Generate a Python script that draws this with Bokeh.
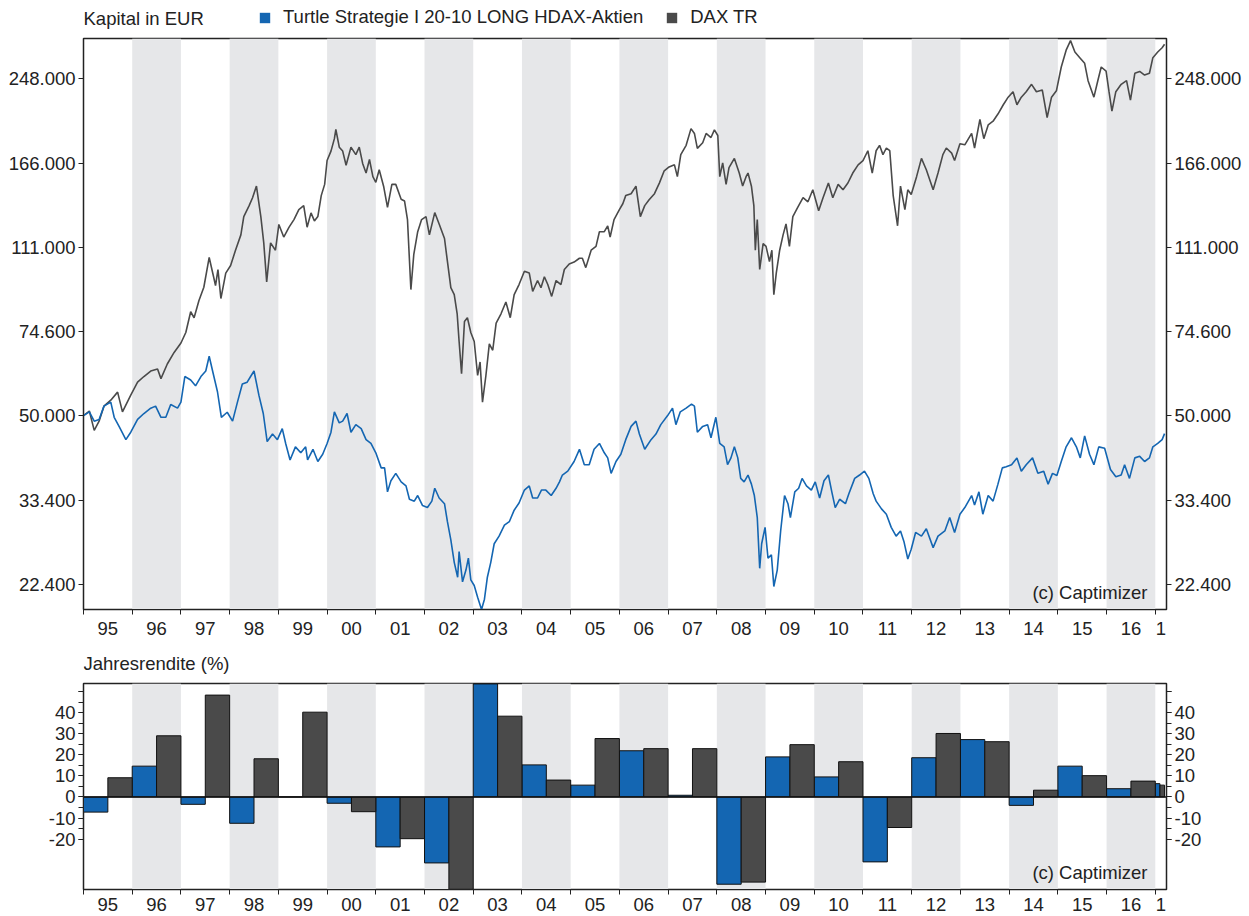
import numpy as np
from bokeh.plotting import figure
from bokeh.layouts import column
from bokeh.models import (Range1d, FixedTicker, LogAxis, LinearAxis, BoxAnnotation,
                          Label, Legend, LegendItem, Span, ColumnDataSource)
from bokeh.embed import file_html
from bokeh.resources import INLINE

# ---------------- data ----------------
years = list(range(1995, 2018))
year_labels = ["95", "96", "97", "98", "99", "00", "01", "02", "03", "04", "05", "06",
               "07", "08", "09", "10", "11", "12", "13", "14", "15", "16", "1"]
x_start, x_end = 1995.0, 2017.23

y_ticks = [22400, 33400, 50000, 74600, 111000, 166000, 248000]
ret_ticks = [-20, -10, 0, 10, 20, 30, 40, 50]
ret_minor = [-20, -15, -10, -5, 0, 5, 10, 15, 20, 25, 30, 35, 40, 45, 50]

series_names = ["Turtle Strategie I 20-10 LONG HDAX-Aktien", "DAX TR"]

# annual returns (%)
strat_ret = [-7.2, 14.6, -3.5, -12.5, 0.0, -3.0, -23.7, -31.3, 53.6, 15.2, 5.6, 21.9,
             0.8, -41.4, 19.0, 9.5, -30.8, 18.6, 27.2, -4.0, 14.6, 3.9, 6.3]
dax_ret = [9.1, 29.0, 48.3, 18.1, 40.2, -7.0, -19.8, -43.8, 38.3, 8.0, 27.7, 22.9,
           22.9, -40.4, 24.8, 16.7, -14.5, 30.1, 26.2, 3.2, 10.1, 7.5, 5.6]

# capital curve DAX TR (EUR)
dax_t = [1995.00, 1995.12, 1995.22, 1995.32, 1995.42, 1995.56, 1995.70, 1995.80, 1995.97,
         1996.11, 1996.24, 1996.38, 1996.52, 1996.59, 1996.72, 1996.86,
         1997.00, 1997.10, 1997.20, 1997.27, 1997.37, 1997.47, 1997.58, 1997.67, 1997.71, 1997.76, 1997.82, 1997.92,
         1998.02, 1998.12, 1998.23, 1998.29, 1998.40, 1998.47, 1998.55, 1998.64, 1998.70, 1998.76, 1998.84, 1998.94,
         1999.01, 1999.11, 1999.22, 1999.32, 1999.42, 1999.52, 1999.59, 1999.67, 1999.74, 1999.81, 1999.88, 1999.95,
         2000.00, 2000.08, 2000.15, 2000.18, 2000.25, 2000.32, 2000.39, 2000.49, 2000.59, 2000.66, 2000.73, 2000.80, 2000.87, 2000.94,
         2001.00, 2001.07, 2001.16, 2001.24, 2001.33, 2001.41, 2001.52, 2001.59, 2001.65, 2001.72, 2001.78, 2001.86, 2001.94,
         2002.03, 2002.10, 2002.21, 2002.30, 2002.41, 2002.47, 2002.54, 2002.61, 2002.67, 2002.71, 2002.76, 2002.82, 2002.88, 2002.95,
         2003.02, 2003.09, 2003.14, 2003.19, 2003.26, 2003.33, 2003.40, 2003.47, 2003.57, 2003.67, 2003.76, 2003.84, 2003.94,
         2004.05, 2004.15, 2004.22, 2004.32, 2004.39, 2004.46, 2004.53, 2004.61, 2004.70, 2004.80, 2004.87, 2004.97,
         2005.07, 2005.18, 2005.24, 2005.31, 2005.42, 2005.52, 2005.59, 2005.69, 2005.76, 2005.81, 2005.89,
         2006.00, 2006.07, 2006.13, 2006.24, 2006.34, 2006.43, 2006.52, 2006.61, 2006.72, 2006.82, 2006.92,
         2007.02, 2007.13, 2007.19, 2007.26, 2007.37, 2007.47, 2007.54, 2007.60, 2007.71, 2007.78, 2007.88, 2007.95,
         2008.02, 2008.06, 2008.12, 2008.19, 2008.25, 2008.36, 2008.46, 2008.53, 2008.60, 2008.64, 2008.71, 2008.76, 2008.79, 2008.83, 2008.88, 2008.95,
         2009.01, 2009.08, 2009.13, 2009.17, 2009.22, 2009.29, 2009.36, 2009.42, 2009.49, 2009.56, 2009.66, 2009.77, 2009.87, 2009.97,
         2010.09, 2010.18, 2010.29, 2010.38, 2010.49, 2010.59, 2010.69, 2010.79, 2010.90,
         2011.00, 2011.10, 2011.19, 2011.27, 2011.34, 2011.41, 2011.48, 2011.55, 2011.62, 2011.71, 2011.77, 2011.86, 2011.92, 2011.99,
         2012.10, 2012.20, 2012.30, 2012.44, 2012.54, 2012.64, 2012.71, 2012.82, 2012.88, 2012.99,
         2013.09, 2013.23, 2013.29, 2013.40, 2013.48, 2013.57, 2013.67, 2013.77, 2013.88, 2013.98,
         2014.08, 2014.16, 2014.25, 2014.35, 2014.46, 2014.56, 2014.68, 2014.78, 2014.87, 2014.97,
         2015.07, 2015.17, 2015.26, 2015.35, 2015.45, 2015.55, 2015.62, 2015.74, 2015.82, 2015.89, 2015.99,
         2016.05, 2016.11, 2016.19, 2016.30, 2016.41, 2016.49, 2016.58, 2016.68, 2016.78, 2016.88, 2016.95,
         2017.05, 2017.14, 2017.19]
dax_v = [50000, 51100, 46600, 48700, 52300, 53800, 55900, 50900, 55100,
         58600, 60200, 61800, 62400, 59600, 63900, 67500,
         70600, 74200, 81900, 79600, 86400, 92000, 106000, 96700, 92700, 100100, 87200, 98400,
         102000, 109700, 118000, 128700, 135600, 140800, 148800, 128700, 113600, 94400, 113600, 109700,
         124000, 116800, 122400, 126900, 133100, 135600, 122400, 131000, 126100, 128700, 142200, 150000,
         168000, 175700, 186400, 194700, 179000, 175700, 164300, 179000, 172800, 179000, 165700, 158300, 168800, 155600,
         151500, 160800, 148700, 134500, 150000, 150000, 139800, 138600, 126900, 91000, 107600, 119800, 126900,
         128700, 118000, 131200, 124300, 116000, 104000, 91800, 88800, 81100, 71100, 61000, 78200, 79600, 74200,
         71100, 60500, 64500, 53300, 60500, 70300, 68200, 77600, 81100, 85800, 79600, 88800, 93200,
         99300, 98400, 90200, 95000, 91800, 96700, 93200, 88100, 95000, 93200, 100100, 102800,
         103700, 105600, 105600, 101000, 109700, 111700, 119800, 119800, 123200, 116800, 126900,
         133100, 136800, 142200, 143500, 148800, 128700, 135600, 139400, 143500, 150900, 160000,
         163000, 164600, 155600, 172800, 180600, 195500, 191100, 178000, 182800, 191100, 187400, 194300,
         189200, 155600, 166100, 150000, 162400, 169700, 158300, 148800, 155600, 158300, 148700, 135600, 109700, 126900, 100100, 113200,
         111700, 104000, 109700, 88800, 98400, 109700, 118000, 124300, 111700, 128700, 134500, 140800, 138100, 146200,
         132300, 140800, 151000, 140800, 150000, 146200, 151000, 158300, 164600,
         168000, 176000, 158300, 176000, 180600, 172800, 178300, 176000, 142200, 123200, 148800, 133100, 146200, 143000,
         155600, 169700, 160800, 146200, 158300, 172800, 178300, 174000, 168000, 182000,
         181000, 191100, 178300, 204300, 186400, 199000, 202500, 209500, 219000, 227000,
         233000, 219000, 227000, 233000, 241300, 233000, 235000, 206100, 227000, 234000,
         262000, 283800, 297000, 281300, 273900, 266600, 245500, 227000, 245500, 262000, 257000,
         233000, 212500, 233000, 241300, 245500, 223900, 254300, 256500, 252100, 254300, 273900,
         281300, 287100, 292000]

# capital curve strategy (EUR)
strat_t = [1995.00, 1995.12, 1995.22, 1995.32, 1995.42, 1995.56, 1995.63, 1995.73, 1995.87, 1995.97,
           1996.11, 1996.24, 1996.38, 1996.48, 1996.59, 1996.69, 1996.79, 1996.93,
           1997.00, 1997.08, 1997.20, 1997.30, 1997.41, 1997.51, 1997.58, 1997.65, 1997.75, 1997.83, 1997.95,
           1998.06, 1998.16, 1998.26, 1998.36, 1998.43, 1998.50, 1998.60, 1998.69, 1998.77, 1998.88, 1998.98,
           1999.08, 1999.15, 1999.24, 1999.35, 1999.46, 1999.56, 1999.60, 1999.71, 1999.81, 1999.91,
           2000.00, 2000.08, 2000.15, 2000.25, 2000.32, 2000.41, 2000.49, 2000.59, 2000.70, 2000.80, 2000.90,
           2001.00, 2001.11, 2001.18, 2001.24, 2001.31, 2001.41, 2001.52, 2001.62, 2001.69, 2001.79, 2001.86, 2001.96,
           2002.06, 2002.15, 2002.21, 2002.30, 2002.41, 2002.47, 2002.54, 2002.61, 2002.68, 2002.71, 2002.78, 2002.85, 2002.90, 2002.95,
           2003.02, 2003.09, 2003.17, 2003.23, 2003.29, 2003.36, 2003.43, 2003.53, 2003.64, 2003.74, 2003.84, 2003.94,
           2004.05, 2004.15, 2004.22, 2004.32, 2004.40, 2004.49, 2004.60, 2004.70, 2004.77, 2004.83, 2004.94,
           2005.07, 2005.18, 2005.28, 2005.38, 2005.48, 2005.59, 2005.69, 2005.76, 2005.83, 2005.93,
           2006.03, 2006.13, 2006.24, 2006.34, 2006.41, 2006.52, 2006.65, 2006.75, 2006.85, 2006.99,
           2007.09, 2007.16, 2007.25, 2007.37, 2007.48, 2007.54, 2007.60, 2007.71, 2007.81, 2007.88, 2007.98,
           2008.06, 2008.15, 2008.22, 2008.29, 2008.36, 2008.43, 2008.49, 2008.56, 2008.64, 2008.71, 2008.77, 2008.83, 2008.88, 2008.92, 2008.99,
           2009.05, 2009.12, 2009.17, 2009.24, 2009.31, 2009.39, 2009.46, 2009.51, 2009.60, 2009.68, 2009.75, 2009.84, 2009.94,
           2010.02, 2010.11, 2010.20, 2010.29, 2010.36, 2010.43, 2010.52, 2010.64, 2010.71, 2010.83, 2010.93,
           2011.03, 2011.12, 2011.21, 2011.27, 2011.38, 2011.48, 2011.58, 2011.68, 2011.77, 2011.84, 2011.92, 2011.99,
           2012.08, 2012.20, 2012.30, 2012.44, 2012.54, 2012.68, 2012.78, 2012.88, 2012.99,
           2013.09, 2013.23, 2013.29, 2013.38, 2013.46, 2013.57, 2013.67, 2013.77, 2013.86, 2013.94,
           2014.05, 2014.16, 2014.25, 2014.35, 2014.48, 2014.59, 2014.71, 2014.80, 2014.89, 2014.98,
           2015.07, 2015.17, 2015.28, 2015.38, 2015.46, 2015.55, 2015.65, 2015.74, 2015.84, 2015.96,
           2016.08, 2016.19, 2016.30, 2016.37, 2016.47, 2016.58, 2016.68, 2016.78, 2016.88, 2016.95,
           2017.05, 2017.14, 2017.19]
strat_v = [50000, 50900, 48700, 49100, 52300, 53300, 49600, 47500, 44600, 46200,
           49100, 50500, 51800, 52300, 49600, 49600, 52700, 51800,
           53300, 60200, 59200, 57600, 60200, 61800, 66300, 61800, 56000, 49600, 50800,
           48700, 53300, 58100, 58600, 60200, 61800, 55100, 50500, 44200, 45800, 44600,
           47000, 43800, 40500, 43100, 41900, 43100, 40500, 42600, 40200, 41600,
           43800, 46200, 50900, 48300, 48700, 50500, 46200, 47900, 47000, 44600, 43800,
           41900, 39000, 39000, 34800, 36700, 38000, 36500, 35800, 33600, 33300, 34200, 32600,
           32300, 33300, 35400, 33800, 32900, 30200, 27700, 24900, 23200, 26200, 22700, 24000, 25400, 22900,
           22300, 21100, 19900, 20900, 23200, 24900, 27200, 28200, 29700, 30200, 31900, 33000,
           35100, 35800, 33800, 33800, 35100, 35100, 34200, 35400, 36500, 37700, 38400,
           40200, 42600, 39600, 39600, 42600, 43800, 41900, 40900, 38000, 40200,
           41600, 44600, 47500, 48700, 45800, 42600, 44600, 45800, 47900, 50000,
           51800, 47900, 50900, 51800, 52800, 52300, 46200, 47500, 47900, 45000, 49600,
           43800, 43100, 39600, 40900, 43100, 40900, 37100, 36500, 37700, 36100, 34200, 30800, 24200, 27200, 29400,
           25400, 25800, 22200, 24000, 28900, 34200, 32900, 30800, 34800, 35400, 37100, 35800, 35100,
           36500, 33800, 36700, 37700, 34800, 32300, 33600, 32900, 34500, 37100, 37700,
           38400, 37100, 34500, 33300, 32100, 31300, 29400, 28200, 28900, 27500, 25300, 26500,
           28700, 28200, 29200, 26700, 28200, 28900, 30800, 28700, 31300,
           32300, 34200, 32700, 34800, 31300, 34200, 33300, 36100, 39000, 39200,
           39600, 40900, 38400, 39600, 40900, 38000, 38400, 36100, 38000, 37600,
           40200, 43100, 45000, 43100, 40900, 45400, 41600, 39600, 43100, 42800,
           38700, 37400, 37700, 39600, 37100, 40900, 41200, 40200, 40900, 43100,
           43800, 44600, 45900]

# ---------------- style ----------------
FONT = "Liberation Sans"
FS = "18.5px"
BLUE = "#1466b2"
GREY = "#4a4a4a"
BAND = "#e6e7e9"
INK = "#222222"

W = 1249
ML, MR = 83, 83
FW = W - ML - MR

HDR1_H = 34
TOP_MT, TOP_FH, TOP_MB = 4, 571, 34
HDR2_H = 32
BOT_MT, BOT_FH, BOT_MB = 8, 206, 26


def make_header(height):
    # header strip whose frame is aligned with the chart frames below (x in px from frame left)
    h = figure(width=W, height=height, x_range=Range1d(0, FW), y_range=Range1d(0, height),
               output_backend="svg", toolbar_location=None,
               min_border_left=ML, min_border_right=MR, min_border_top=0, min_border_bottom=0,
               x_axis_location=None, y_axis_location=None)
    h.xgrid.visible = False
    h.ygrid.visible = False
    h.outline_line_color = None
    h.background_fill_color = "white"
    h.border_fill_color = "white"
    return h


def make_fig(mt, fh, mb, y_range, **kw):
    p = figure(width=W, height=mt + fh + mb, x_range=Range1d(x_start, x_end), y_range=y_range,
               output_backend="svg", toolbar_location=None,
               min_border_left=ML, min_border_right=MR, min_border_top=mt, min_border_bottom=mb, **kw)
    p.xgrid.visible = False
    p.ygrid.visible = False
    p.outline_line_color = INK
    p.outline_line_width = 1.5
    p.outline_line_alpha = 1.0
    p.background_fill_color = "white"
    p.border_fill_color = "white"
    for y in years:
        if y % 2 == 0:
            p.add_layout(BoxAnnotation(left=y, right=min(y + 1, x_end), fill_color=BAND,
                                       fill_alpha=1.0, line_alpha=0, level="underlay"))
    return p


def style_axis(ax):
    ax.axis_line_color = INK
    ax.major_tick_line_color = INK
    ax.minor_tick_line_color = INK
    ax.major_label_text_font = FONT
    ax.major_label_text_font_size = FS
    ax.major_label_text_color = INK


def setup_x(ax, standoff):
    mids = [(y + min(y + 1, x_end)) / 2 for y in years]
    ax.ticker = FixedTicker(ticks=mids, minor_ticks=years)
    ax.major_label_overrides = {m: lab for m, lab in zip(mids, year_labels)}
    ax.major_tick_out = 0
    ax.major_tick_in = 0
    ax.minor_tick_out = 5
    ax.minor_tick_in = 0
    ax.major_label_standoff = standoff
    style_axis(ax)


def setup_ylog(ax):
    ax.ticker = FixedTicker(ticks=y_ticks)
    ax.major_label_overrides = {v: f"{v:,}".replace(",", ".") for v in y_ticks}
    ax.major_tick_out = 5
    ax.major_tick_in = 0
    ax.minor_tick_out = 0
    ax.minor_tick_in = 0
    ax.major_label_standoff = 3
    style_axis(ax)


def setup_yret(ax):
    ax.ticker = FixedTicker(ticks=ret_ticks, minor_ticks=ret_minor)
    ax.major_label_overrides = {v: ("" if v == 50 else str(v)) for v in ret_ticks}
    ax.major_tick_out = 5
    ax.major_tick_in = 0
    ax.minor_tick_out = 5
    ax.minor_tick_in = 0
    ax.major_label_standoff = 3
    style_axis(ax)


# ---------------- header of top chart ----------------
hdr1 = make_header(HDR1_H)
hdr1.add_layout(Label(x=0, y=16, text="Kapital in EUR", text_font=FONT, text_font_size=FS,
                      text_color=INK, text_baseline="middle", text_align="left"))
# swatch-only renderers for the legend (NaN geometry: nothing drawn in the strip itself)
swatch_src = ColumnDataSource(dict(l=[np.nan], r=[np.nan], t=[np.nan], b=[np.nan]))
leg_s = hdr1.quad(left="l", right="r", top="t", bottom="b", source=swatch_src,
                  fill_color=BLUE, line_color=None)
leg_d = hdr1.quad(left="l", right="r", top="t", bottom="b", source=swatch_src,
                  fill_color=GREY, line_color=None)
legend = Legend(items=[LegendItem(label=series_names[0], renderers=[leg_s], index=0),
                       LegendItem(label=series_names[1], renderers=[leg_d], index=0)],
                orientation="horizontal", location=(175, 6),
                glyph_width=13, glyph_height=13, label_height=20, label_standoff=12, spacing=22,
                padding=0, margin=0, border_line_alpha=0, background_fill_alpha=0,
                label_text_font=FONT, label_text_font_size=FS, label_text_color=INK)
hdr1.add_layout(legend)

# ---------------- top chart ----------------
p1 = make_fig(TOP_MT, TOP_FH, TOP_MB, Range1d(19900, 300000), y_axis_type="log")
setup_x(p1.xaxis[0], 7)
setup_ylog(p1.yaxis[0])
ry = LogAxis()
setup_ylog(ry)
p1.add_layout(ry, "right")

p1.line(dax_t, dax_v, line_color=GREY, line_width=1.6)
p1.line(strat_t, strat_v, line_color=BLUE, line_width=1.6)

p1.add_layout(Label(x=FW - 19, y=17, x_units="screen", y_units="screen", text="(c) Captimizer",
                    text_font=FONT, text_font_size=FS, text_color=INK,
                    text_baseline="middle", text_align="right"))

# ---------------- header of bottom chart ----------------
hdr2 = make_header(HDR2_H)
hdr2.add_layout(Label(x=0, y=12, text="Jahresrendite (%)", text_font=FONT, text_font_size=FS,
                      text_color=INK, text_baseline="middle", text_align="left"))

# ---------------- bottom chart ----------------
p2 = make_fig(BOT_MT, BOT_FH, BOT_MB, Range1d(-43.9, 53.8))
setup_x(p2.xaxis[0], 3)
setup_yret(p2.yaxis[0])
rr = LinearAxis()
setup_yret(rr)
p2.add_layout(rr, "right")

yr = np.array(years, dtype=float)
data_end = strat_t[-1]
yend = np.minimum(yr + 1, data_end)
ymid = (yr + yend) / 2
p2.quad(left=yr, right=ymid, bottom=0, top=strat_ret, fill_color=BLUE, line_color="#111111", line_width=1)
p2.quad(left=ymid, right=yend, bottom=0, top=dax_ret, fill_color=GREY, line_color="#111111", line_width=1)
p2.add_layout(Span(location=0, dimension="width", line_color="#111111", line_width=1.5))

p2.add_layout(Label(x=FW - 19, y=17, x_units="screen", y_units="screen", text="(c) Captimizer",
                    text_font=FONT, text_font_size=FS, text_color=INK,
                    text_baseline="middle", text_align="right"))

layout = column(hdr1, p1, hdr2, p2, spacing=0)
open("out.html", "w").write(file_html(layout, INLINE))
